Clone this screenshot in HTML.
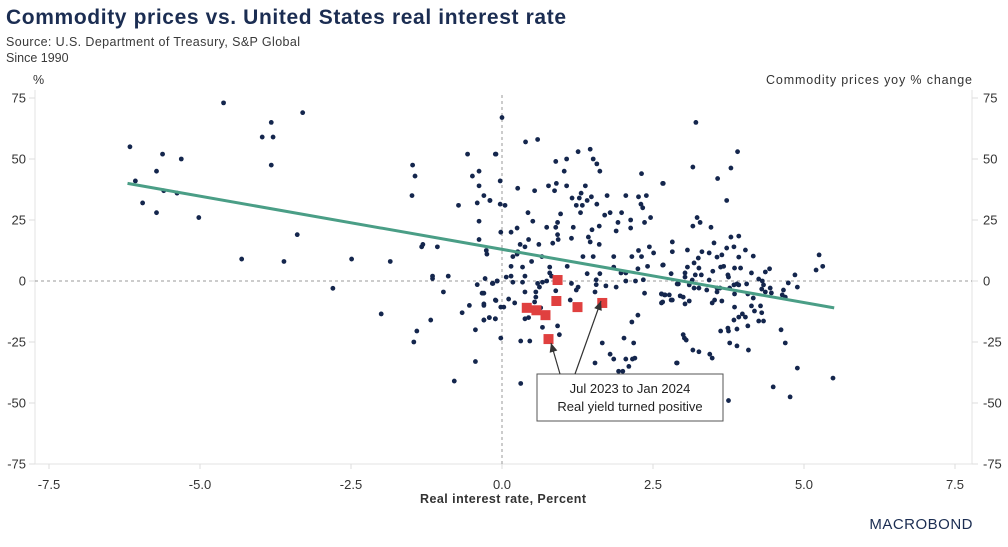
<!DOCTYPE html>
<html><head><meta charset="utf-8">
<style>
body{margin:0;background:#fff;width:1008px;height:542px;overflow:hidden;font-family:"Liberation Sans",sans-serif;}
svg text{font-family:"Liberation Sans",sans-serif;}
</style></head>
<body>
<svg id="chart" width="1008" height="542" xmlns="http://www.w3.org/2000/svg">
<text x="6" y="24" font-size="21" font-weight="bold" fill="#1b2d52" textLength="560" lengthAdjust="spacing">Commodity prices vs. United States real interest rate</text>
<text x="6" y="46" font-size="12.5" fill="#3a3a3a" textLength="294" lengthAdjust="spacing">Source: U.S. Department of Treasury, S&amp;P Global</text>
<text x="6" y="62" font-size="12.5" fill="#3a3a3a">Since 1990</text>
<text x="33" y="84" font-size="12.5" fill="#333">%</text>
<text x="972" y="84" font-size="12.5" fill="#333" text-anchor="end" textLength="206" lengthAdjust="spacing">Commodity prices yoy % change</text>
<g id="axes"></g>
<g id="marks"></g>
<text x="503" y="503" font-size="12.5" font-weight="bold" fill="#333" text-anchor="middle" textLength="166" lengthAdjust="spacing">Real interest rate, Percent</text>
<text x="973" y="529" font-size="15" fill="#1b2d52" text-anchor="end" letter-spacing="0.5">MACROBOND</text>
</svg>
<script>
const xTicks=[-7.5,-5.0,-2.5,0.0,2.5,5.0,7.5];
const yTicks=[75,50,25,0,-25,-50,-75];
const rateX=[-6.16,-6.07,-5.95,-5.72,-5.62,-5.72,-5.6,-5.38,-5.31,-5.02,-4.61,-4.31,-3.97,-3.82,-3.79,-3.82,-3.61,-3.39,-3.3,-2.8,-2.49,-2.0,-1.85,-1.49,-1.48,-1.44,-1.46,-1.41,-1.33,-1.31,-1.18,-1.15,-1.15,-1.07,-0.97,-0.89,-0.79,-0.72,-0.66,-0.57,-0.54,-0.49,-0.44,-0.44,-0.41,-0.41,-0.38,-0.38,-0.38,-0.38,-0.33,-0.3,-0.3,-0.3,-0.26,-0.25,-0.2,-0.21,-0.11,-0.1,-0.15,-0.1,-0.08,-0.28,
0,0.39,0.59,-0.11,-0.03,1.26,1.46,0.89,1.07,1.51,1.57,1.62,1.03,2.31,2.66,0.77,0.9,0.87,1.07,1.38,0.26,0.54,1.31,1.16,1.28,1.41,1.48,1.74,2.05,2.26,2.39,2.3,2.33,1.57,1.23,1.33,-0.2,0.05,-0.03,0.43,0.97,1.3,1.7,1.79,1.98,2.46,2.13,2.36,0.51,0.92,1.92,0.74,0.89,1.18,1.49,1.61,1.89,2.13,0.92,0.25,0.15,-0.02,0.44,0.3,0.61,0.84,0.93,1.15,1.43,1.46,1.61,1.34,1.51,1.85,2.15,2.26,2.31,2.44,2.51,2.82,2.82,0.18,0.25,0.26,0.38,0.49,0.66,0.15,0.34,0.79,1.08,1.85,2.05,2.25,2.41,2.66,1.41,1.62,1.97,0.07,0.15,0.38,0.79,0.82,2.8,-0.08,-0.16,0.34,0.59,0.62,0.67,0.74,0.18,1.15,1.26,1.56,1.56,1.72,1.89,2.05,2.21,2.34,2.36,2.64,2.66,2.7,2.8,1.23,1.54,-0.3,-0.3,-0.11,0.03,-0.02,0.11,0.21,0.38,0.56,0.56,0.54,0.64,0.89,1.13,-0.3,-0.21,-0.11,0.38,0.44,0.67,0.92,0.95,-0.02,0.31,0.46,1.66,2.02,2.18,2.15,2.25,1.79,1.85,2.05,2.1,2.16,2.2,1.54,1.93,2.0,2.89,0.31,
3.21,3.9,3.16,3.79,2.67,3.57,3.72,3.23,3.16,3.28,3.46,3.79,3.92,3.51,3.72,3.84,4.03,3.07,3.31,3.43,3.56,3.64,3.92,4.16,3.25,3.18,2.67,3.07,3.26,3.49,3.62,3.67,3.85,3.95,3.03,3.2,3.3,3.03,3.74,3.75,4.13,4.36,4.43,4.85,5.25,5.31,5.2,2.92,3.15,3.1,3.18,3.26,3.39,3.43,3.56,3.56,3.61,3.77,3.84,3.89,3.92,3.85,4.05,4.25,4.31,4.33,4.3,4.36,4.44,4.46,4.66,4.74,4.89,4.64,4.69,4.07,4.16,2.64,2.69,2.77,2.64,2.82,2.95,3.0,2.9,3.03,3.1,3.48,3.52,3.64,3.85,4.13,4.18,4.28,4.3,4.25,4.33,3.98,4.03,3.92,3.84,4.07,3.89,3.74,3.75,3.62,3.77,3.89,4.08,3.0,3.02,3.05,3.16,3.26,3.44,3.48,2.9,4.62,4.69,4.89,4.49,4.77,5.48,3.75];
const commodityY=[55,41,32,45,52,28,37,36,50,26,73,9,59,65,59,47.5,8,19,69,-3,9,-13.5,8,35,47.5,43,-25,-20.5,14,15,-16,2,1,14,-4.5,2,-41,31,-13,52,-10,43,-33,-20,32,-1.5,45,39,24.5,17,-5,35,-10,-16,12.5,11,33,-15,-15.5,-8,-1,52,0,1,
67,57,58,52,41,53,54,49,50,50,48,45,45,44,40,39,40,37,39,39,38,37,36,34,34,33,34.5,35,35,34.5,35,31.5,30,31.5,31,31,33,31,31.5,28,27.5,28,27,28,28,26,25,24,24.5,24,24,22,22,22,21,22.5,20.5,21.7,19,21.7,20,20,17,15,15,15.5,17,17.5,18,16,15,10,10,10,10,12.5,10,14,11.5,16,12,10,11,12,14,8,10,6,5.7,5.7,6,5.7,3.3,5,6,6.5,3,3,3.3,1.6,2,2,3.3,2,3,0,-1,-0.5,-1,-2.5,-0.5,0,-0.5,-1,-2.5,0.5,-1.5,-2,-2.5,0,0,0.5,-5,-5.3,-8.6,-5.7,-7.8,-3.7,-4.5,-5,-9.4,-7.8,-10.7,-10.7,-7.4,-9,-4.5,-4.5,-6.6,-8.6,-11,-4,-7.8,-16,-15,-15.5,-15.5,-15,-19,-18.4,-22,-23.4,-24.6,-24.6,-25.4,-23.4,-25.4,-16.8,-14,-30,-32,-32,-35,-32,-31.6,-33.6,-37,-37,-33.6,-42,
65,53,46.7,46.3,40,42,33,26,22.5,24,22,18,18.4,15.6,13.5,14,12.7,12.7,12,11.5,9.8,10.7,9.8,10.2,9.4,7.4,6.6,5.7,5.3,4,5.7,6,5.3,5.3,3.3,2.5,2.5,1.6,2.5,1.6,3.3,3.7,5,2.5,10.7,6,4.5,-1.2,0.4,-1.6,-2.9,-2.9,-3.7,0.4,-2.9,-4.5,-2.9,-2.9,-1.6,-1.2,-1.6,-5.3,-1.2,0.8,0,-1.6,-3.3,-4.5,-2.9,-4.9,-3.7,-0.8,-2.5,-5.7,-6.6,-5.3,-7,-5.3,-5.7,-5.7,-9,-7.8,-6.1,-6.6,-1.2,-9.4,-8.2,-9,-7.8,-8.2,-10.7,-10.2,-12.3,-10.2,-13,-16.4,-16.4,-13.5,-14.8,-14.8,-16,-18.4,-19.7,-19.3,-20.5,-20.5,-25.4,-26.6,-28.3,-22,-23.4,-24.2,-28.3,-29,-30,-31.6,-33.6,-20,-25.4,-35.7,-43.4,-47.5,-39.8,-49];
const recentX=[0.41,0.57,0.72,0.92,0.9,1.25,1.66,0.77];
const recentY=[-11,-12,-14,0.4,-8.2,-10.7,-9,-23.8];
const trendX=[-6.2,5.5];
const trendY=[40,-11];

const NS="http://www.w3.org/2000/svg";
const L=35,R=972,T=90,B=464;
function sx(v){return 502+v*60.4;}
function sy(v){return 281-v*2.44;}
function mk(tag,attrs,parent){const e=document.createElementNS(NS,tag);for(const k in attrs)e.setAttribute(k,attrs[k]);parent.appendChild(e);return e;}
const axes=document.getElementById('axes'),marks=document.getElementById('marks');

let e=mk('line',{x1:L,y1:T,x2:L,y2:B,stroke:'#e3e3e3','stroke-width':1},axes);


e=mk('line',{x1:R,y1:T,x2:R,y2:B,stroke:'#e3e3e3','stroke-width':1},axes);


e=mk('line',{x1:L,y1:B,x2:R,y2:B,stroke:'#e3e3e3','stroke-width':1},axes);


e=mk('line',{x1:L,y1:sy(0),x2:R,y2:sy(0),stroke:'#999','stroke-width':1,'stroke-dasharray':'3,3'},axes);


e=mk('line',{x1:sx(0),y1:T+5,x2:sx(0),y2:B,stroke:'#999','stroke-width':1,'stroke-dasharray':'3,3'},axes);



xTicks.forEach(v=>{
  const t=mk('line',{x1:sx(v),y1:B,x2:sx(v),y2:B+5,stroke:'#ddd'},axes);
  
  
  const l=mk('text',{x:sx(v),y:B+25,'font-size':13,fill:'#333','text-anchor':'middle'},axes);
  l.textContent=v.toFixed(1);
  
  
});
yTicks.forEach(v=>{
  const a=mk('line',{x1:L-6,y1:sy(v),x2:L,y2:sy(v),stroke:'#ddd'},axes);
  
  
  const b=mk('line',{x1:R,y1:sy(v),x2:R+6,y2:sy(v),stroke:'#ddd'},axes);
  
  
  const l=mk('text',{x:26,y:sy(v)+4.5,'font-size':13,fill:'#333','text-anchor':'end'},axes);
  l.textContent=v;
  
  
  const r=mk('text',{x:983,y:sy(v)+4.5,'font-size':13,fill:'#333'},axes);
  r.textContent=v;
  
  
});

rateX.forEach((x,i)=>{
  const c=mk('circle',{cx:sx(x),cy:sy(commodityY[i]),r:2.4,fill:'#14264d'},marks);
  
  
});
e=mk('line',{x1:sx(trendX[0]),y1:sy(trendY[0]),x2:sx(trendX[1]),y2:sy(trendY[1]),stroke:'#4a9e86','stroke-width':3},marks);


recentX.forEach((x,i)=>{
  const s=mk('rect',{x:sx(x)-5,y:sy(recentY[i])-5,width:10,height:10,fill:'#e0403f'},marks);
  
  
});

const ann=mk('g',{},marks);


mk('rect',{x:537,y:374,width:186,height:47,fill:'#fff',stroke:'#555','stroke-width':1},ann);
function arrow(x1,y1,x2,y2){
  mk('line',{x1:x1,y1:y1,x2:x2,y2:y2,stroke:'#333','stroke-width':1.2},ann);
  const a=Math.atan2(y2-y1,x2-x1),h=9,w=4;
  const bx=x2-h*Math.cos(a),by=y2-h*Math.sin(a);
  const px=-Math.sin(a)*w,py=Math.cos(a)*w;
  mk('polygon',{points:`${x2},${y2} ${bx+px},${by+py} ${bx-px},${by-py}`,fill:'#333'},ann);
}
arrow(560,374,551,343);
arrow(575,374,601,301);
let t1=mk('text',{x:630,y:393,'font-size':13,fill:'#222','text-anchor':'middle'},ann);
t1.textContent='Jul 2023 to Jan 2024';


let t2=mk('text',{x:630,y:411,'font-size':13,fill:'#222','text-anchor':'middle'},ann);
t2.textContent='Real yield turned positive';


</script>
</body></html>
